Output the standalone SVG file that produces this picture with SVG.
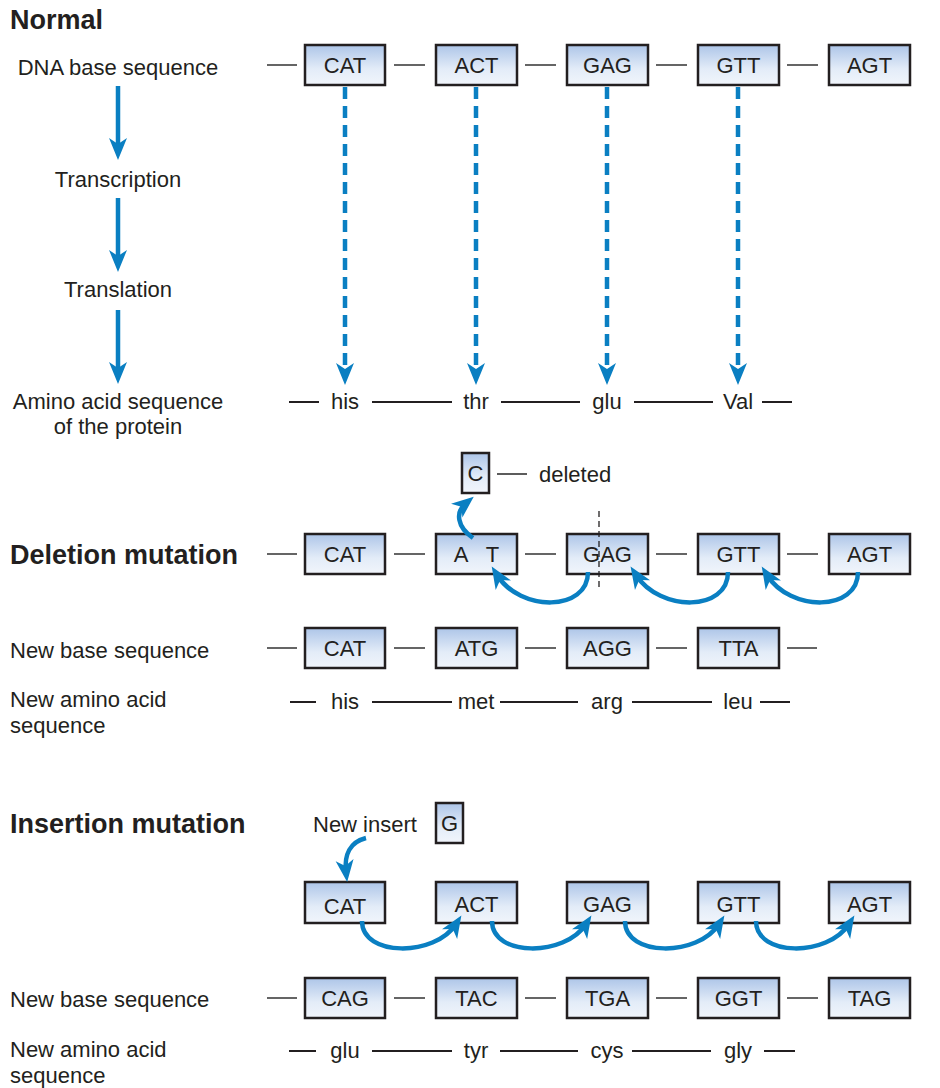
<svg xmlns="http://www.w3.org/2000/svg" xmlns:xlink="http://www.w3.org/1999/xlink" width="940" height="1088" viewBox="0 0 940 1088">
<style>
text{font-family:"Liberation Sans",Arial,sans-serif;fill:#231f20;font-size:22px}
.h{font-weight:bold;font-size:27px}
.c{text-anchor:middle}
.box{fill:url(#bg);stroke:#231f20;stroke-width:2.5}
.dash{stroke:#333;stroke-width:1.6;fill:none}
.aa{stroke:#231f20;stroke-width:2;fill:none}
.blue{stroke:#0a7fc2;stroke-width:4.5;fill:none}
.bd{stroke:#0a7fc2;stroke-width:4.5;fill:none;stroke-dasharray:12 7}
.curve{stroke:#0a7fc2;stroke-width:4.5;fill:none;marker-end:url(#mh)}
.ah{fill:#0a7fc2}
</style>
<defs>
<linearGradient id="bg" x1="0" y1="0" x2="0" y2="1">
<stop offset="0" stop-color="#adc5e8"/>
<stop offset="0.6" stop-color="#e3ecf8"/>
<stop offset="1" stop-color="#f1f5fb"/>
</linearGradient>
<path id="ah" d="M-9,-22 L0,0 L9,-22 L0,-16 Z"/>
<marker id="mh" markerUnits="userSpaceOnUse" markerWidth="24" markerHeight="20" refX="12" refY="9" orient="auto" overflow="visible">
<path d="M0,0 L22,9 L0,18 L6,9 Z" fill="#0a7fc2"/>
</marker>
</defs>
<rect width="940" height="1088" fill="#fff"/>

<!-- Labels -->
<g id="labels">
<text class="h" x="10" y="29">Normal</text>
<text class="c" x="118" y="75">DNA base sequence</text>
<text class="c" x="118" y="187">Transcription</text>
<text class="c" x="118" y="297">Translation</text>
<text class="c" x="118" y="409">Amino acid sequence</text>
<text class="c" x="118" y="434">of the protein</text>
<text class="h" x="10" y="564">Deletion mutation</text>
<text x="10" y="658">New base sequence</text>
<text x="10" y="707">New amino acid</text>
<text x="10" y="733">sequence</text>
<text class="h" x="10" y="833">Insertion mutation</text>
<text x="313" y="832">New insert</text>
<text x="10" y="1007">New base sequence</text>
<text x="10" y="1057">New amino acid</text>
<text x="10" y="1083">sequence</text>
<text x="539" y="482">deleted</text>
</g>

<!-- Row 1: normal DNA -->
<g id="n-CAT"><rect class="box" x="305" y="45" width="80" height="40"/><text class="c" x="345" y="73">CAT</text></g>
<g id="n-ACT"><rect class="box" x="436" y="45" width="81" height="40"/><text class="c" x="476.5" y="73">ACT</text></g>
<g id="n-GAG"><rect class="box" x="567" y="45" width="81" height="40"/><text class="c" x="607.5" y="73">GAG</text></g>
<g id="n-GTT"><rect class="box" x="698" y="45" width="81" height="40"/><text class="c" x="738.5" y="73">GTT</text></g>
<g id="n-AGT"><rect class="box" x="829" y="45" width="81" height="40"/><text class="c" x="869.5" y="73">AGT</text></g>

<!-- Amino row 1 -->
<g id="aa1">
<text class="c" x="345" y="409">his</text>
<text class="c" x="476" y="409">thr</text>
<text class="c" x="607" y="409">glu</text>
<text class="c" x="738" y="409">Val</text>
</g>

<!-- Deleted C -->
<g id="d-C"><rect class="box" x="462" y="453" width="27" height="40"/><text class="c" x="475.5" y="481">C</text></g>

<!-- Row 2: deletion -->
<g id="d-CAT"><rect class="box" x="305" y="534" width="80" height="40"/><text class="c" x="345" y="562">CAT</text></g>
<g id="d-AT"><rect class="box" x="436" y="534" width="81" height="40"/><text class="c" x="476.5" y="562" style="word-spacing:13px">A T</text></g>
<g id="d-GAG"><rect class="box" x="567" y="534" width="81" height="40"/><text class="c" x="607.5" y="562">GAG</text></g>
<g id="d-GTT"><rect class="box" x="698" y="534" width="81" height="40"/><text class="c" x="738.5" y="562">GTT</text></g>
<g id="d-AGT"><rect class="box" x="829" y="534" width="81" height="40"/><text class="c" x="869.5" y="562">AGT</text></g>

<!-- Row 3: new base sequence -->
<g id="r3-CAT"><rect class="box" x="305" y="628" width="80" height="40"/><text class="c" x="345" y="656">CAT</text></g>
<g id="r3-ATG"><rect class="box" x="436" y="628" width="81" height="40"/><text class="c" x="476.5" y="656">ATG</text></g>
<g id="r3-AGG"><rect class="box" x="567" y="628" width="81" height="40"/><text class="c" x="607.5" y="656">AGG</text></g>
<g id="r3-TTA"><rect class="box" x="698" y="628" width="81" height="40"/><text class="c" x="738.5" y="656">TTA</text></g>

<g id="aa2">
<text class="c" x="345" y="709">his</text>
<text class="c" x="476" y="709">met</text>
<text class="c" x="607" y="709">arg</text>
<text class="c" x="738" y="709">leu</text>
</g>

<!-- Insert G -->
<g id="i-G"><rect class="box" x="436" y="803" width="27" height="40"/><text class="c" x="449.5" y="831">G</text></g>

<!-- Row 4: insertion -->
<g id="i-CAT"><rect class="box" x="305" y="882" width="80" height="41"/><text class="c" x="345" y="914">CAT</text></g>
<g id="i-ACT"><rect class="box" x="436" y="882" width="81" height="41"/><text class="c" x="476.5" y="912">ACT</text></g>
<g id="i-GAG"><rect class="box" x="567" y="882" width="81" height="41"/><text class="c" x="607.5" y="912">GAG</text></g>
<g id="i-GTT"><rect class="box" x="698" y="882" width="81" height="41"/><text class="c" x="738.5" y="912">GTT</text></g>
<g id="i-AGT"><rect class="box" x="829" y="882" width="81" height="41"/><text class="c" x="869.5" y="912">AGT</text></g>

<!-- Row 5 -->
<g id="r5-CAG"><rect class="box" x="305" y="978" width="80" height="40"/><text class="c" x="345" y="1006">CAG</text></g>
<g id="r5-TAC"><rect class="box" x="436" y="978" width="81" height="40"/><text class="c" x="476.5" y="1006">TAC</text></g>
<g id="r5-TGA"><rect class="box" x="567" y="978" width="81" height="40"/><text class="c" x="607.5" y="1006">TGA</text></g>
<g id="r5-GGT"><rect class="box" x="698" y="978" width="81" height="40"/><text class="c" x="738.5" y="1006">GGT</text></g>
<g id="r5-TAG"><rect class="box" x="829" y="978" width="81" height="40"/><text class="c" x="869.5" y="1006">TAG</text></g>

<g id="aa3">
<text class="c" x="345" y="1058">glu</text>
<text class="c" x="476" y="1058">tyr</text>
<text class="c" x="607" y="1058">cys</text>
<text class="c" x="738" y="1058">gly</text>
</g>

<!-- Connectors -->
<g id="connectors">
<path class="dash" d="M267,65H297 M394,65H425 M525,65H556 M656,65H687 M787,65H818"/>
<path class="dash" d="M267,554H297 M394,554H425 M525,554H556 M656,554H687 M787,554H818"/>
<path class="dash" d="M267,648H297 M394,648H425 M525,648H556 M656,648H687 M787,648H817"/>
<path class="dash" d="M267,998H297 M394,998H425 M525,998H556 M656,998H687 M787,998H818"/>
<path class="dash" d="M497,474H527"/>
<path class="aa" d="M289,402H319 M372,402H452 M501,402H580 M634,402H713 M762,402H792"/>
<path class="aa" d="M290,702H316 M372,702H452 M500,702H578 M632,702H712 M760,702H790"/>
<path class="aa" d="M289,1051H316 M372,1051H452 M500,1051H578 M632,1051H711 M764,1051H795"/>
<path class="blue" d="M118,86V145 M118,198V257 M118,310V369"/>
<use href="#ah" class="ah" x="118" y="160"/>
<use href="#ah" class="ah" x="118" y="272"/>
<use href="#ah" class="ah" x="118" y="384"/>
<path class="bd" d="M345,87V368 M476,87V368 M607,87V368 M738,87V368"/>
<use href="#ah" class="ah" x="345" y="385"/>
<use href="#ah" class="ah" x="476" y="385"/>
<use href="#ah" class="ah" x="607" y="385"/>
<use href="#ah" class="ah" x="738" y="385"/>
<path d="M599,511V591" stroke="#231f20" stroke-width="1.3" stroke-dasharray="6 4" fill="none"/>
<path class="curve" d="M473,538 C457,527 455,512 466,503"/>
<path class="curve" d="M588,572 C588,612 520,612 497,575"/>
<path class="curve" d="M728,572 C728,612 660,612 636,575"/>
<path class="curve" d="M858,572 C858,612 790,612 767,575"/>
<path class="curve" d="M366,838 C350,842 344,855 346,872"/>
<path class="curve" d="M362,921 C362,957 435,957 456,924"/>
<path class="curve" d="M492,921 C492,957 565,957 586,924"/>
<path class="curve" d="M625,921 C625,957 698,957 719,924"/>
<path class="curve" d="M756,921 C756,957 828,957 849,924"/>
</g>
</svg>
